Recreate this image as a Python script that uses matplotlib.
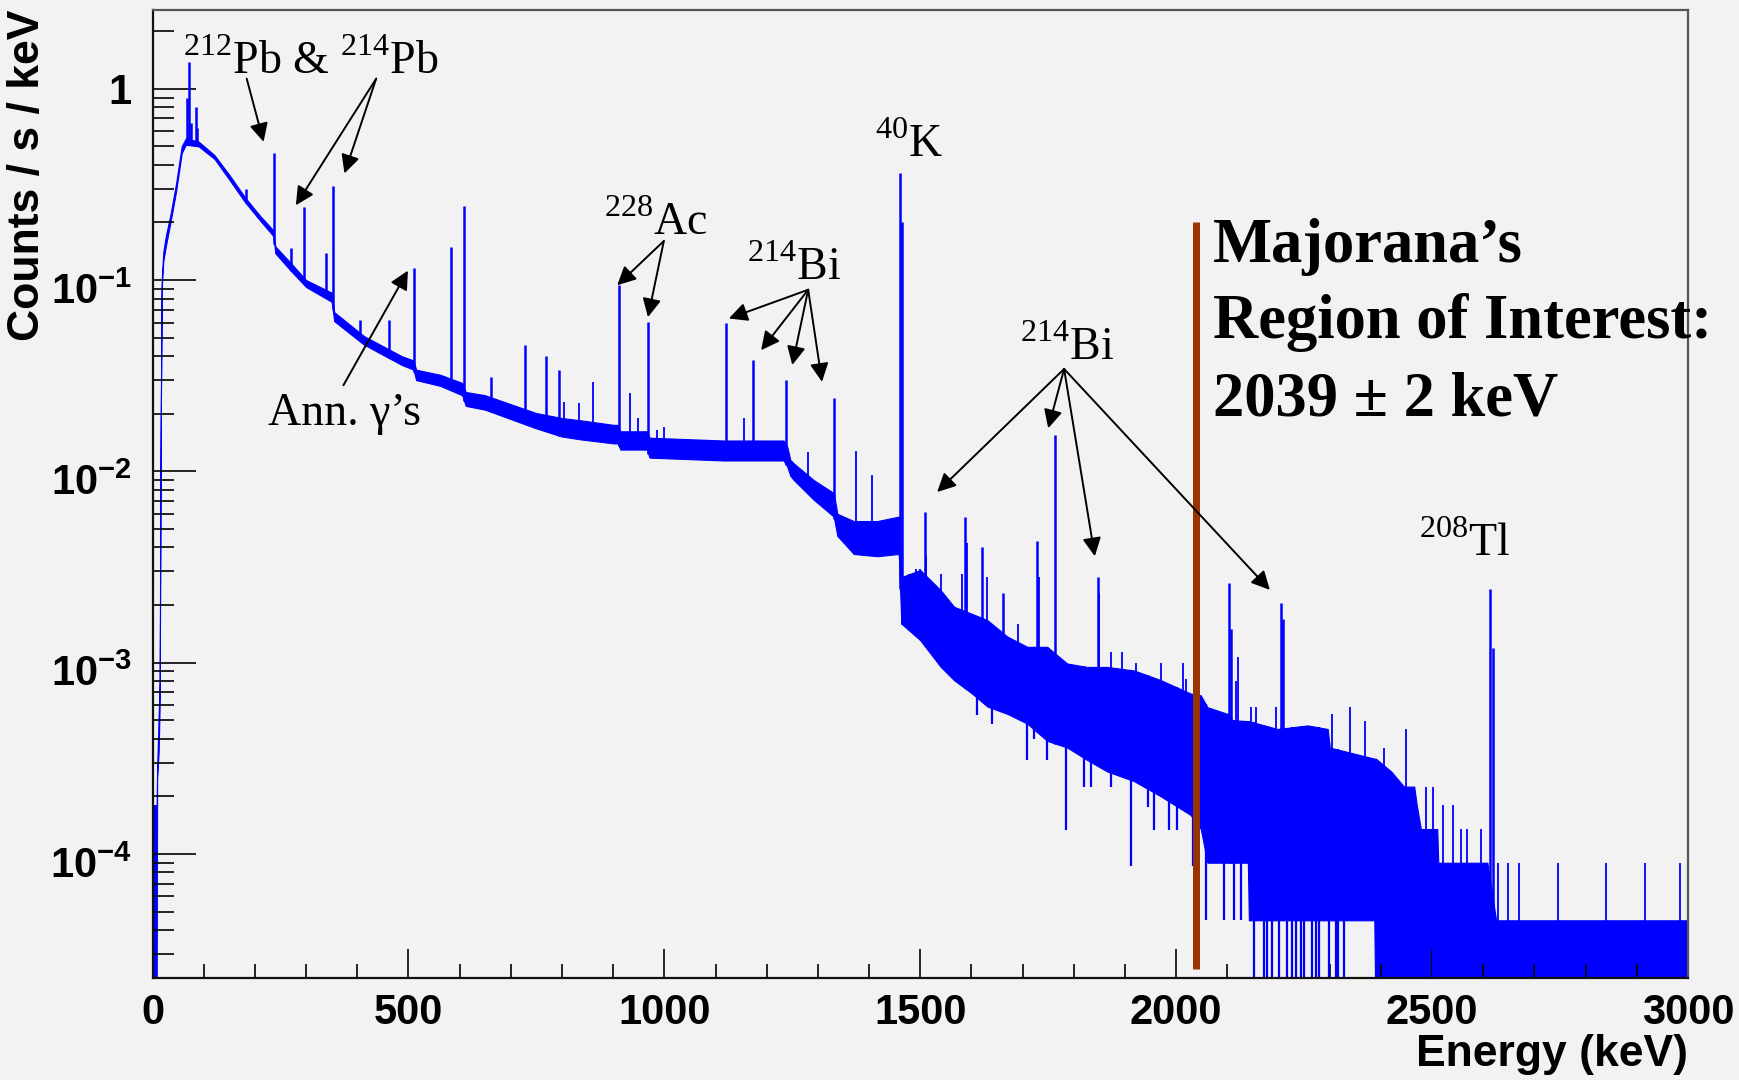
import numpy as np
import matplotlib.pyplot as plt
from matplotlib.ticker import LogLocator, MultipleLocator, NullFormatter
from matplotlib.transforms import ScaledTranslation

plt.rcParams['mathtext.fontset'] = 'custom'
plt.rcParams['mathtext.rm'] = 'Liberation Serif'
plt.rcParams['mathtext.bf'] = 'Liberation Sans:bold'

# continuum band of the spectrum: energy (keV), lower and upper edge (counts/s/keV)
cont_e = [0, 8, 9, 12, 14, 16, 18, 21, 26, 35, 46, 57, 65, 90, 121, 150, 181, 210,
          236, 240, 270, 300, 350, 355, 413, 487, 510, 515, 562, 605, 612, 650, 749,
          800, 836, 901, 909, 914, 966, 971, 1116, 1233, 1240, 1246, 1253, 1292, 1331,
          1338, 1370, 1416, 1458, 1463, 1500, 1540, 1566, 1601, 1631, 1670, 1709, 1748,
          1787, 1826, 1865, 1918, 1970, 2028, 2048, 2061, 2100, 2110, 2140, 2142, 2198,
          2257, 2296, 2300, 2387, 2390, 2420, 2445, 2465, 2470, 2478, 2510, 2512, 2608,
          2625, 3000]
cont_lo = [1e-5, 1e-5, 2.5e-4, 3.4e-4, 6e-4, 0.015, 0.09, 0.125, 0.15, 0.2, 0.29, 0.46,
           0.51, 0.5, 0.43, 0.335, 0.255, 0.205, 0.17, 0.138, 0.112, 0.092, 0.077, 0.061,
           0.046, 0.036, 0.034, 0.03, 0.028, 0.025, 0.022, 0.021, 0.0168,
           0.0152, 0.0147, 0.014, 0.014, 0.013, 0.013, 0.0118, 0.0114, 0.0114, 0.0106,
           0.0095, 0.009, 0.0071, 0.0058, 0.0046, 0.0037, 0.0036, 0.0037, 0.0016, 0.00131,
           0.00095, 0.00081, 0.00069, 0.00059, 0.00054, 0.00048, 0.00039, 0.00036,
           0.00031, 0.00027, 0.00024, 0.0002, 0.00016, 1.35e-4, 9e-5, 9e-5, 9e-5, 9e-5,
           4.5e-5, 4.5e-5, 4.5e-5, 4.5e-5, 4.5e-5, 4.5e-5, 1e-5, 1e-5, 1e-5, 1e-5, 1e-5,
           1e-5, 1e-5, 1e-5, 1e-5, 1e-5, 1e-5]
cont_hi = [1.8e-4, 1.8e-4, 2.8e-4, 5.3e-4, 8e-4, 0.018, 0.1, 0.14, 0.17, 0.22, 0.32, 0.5,
           0.55, 0.53, 0.45, 0.355, 0.27, 0.217, 0.182, 0.15, 0.123, 0.1, 0.086, 0.068,
           0.051, 0.04, 0.038, 0.034, 0.032, 0.029, 0.026, 0.025, 0.0202,
           0.019, 0.0185, 0.0175, 0.0175, 0.0162, 0.0162, 0.015, 0.0145, 0.0145, 0.0135,
           0.0115, 0.011, 0.009, 0.0077, 0.006, 0.0055, 0.0055, 0.0058, 0.0028, 0.00305,
           0.00239, 0.00196, 0.0018, 0.00167, 0.00137, 0.00121, 0.00121, 0.00099,
           0.00095, 0.00095, 0.00091, 0.00081, 0.00069, 6.75e-4, 5.85e-4, 5.4e-4, 5e-4,
           4.95e-4, 4.95e-4, 4.5e-4, 4.7e-4, 4.5e-4, 3.6e-4, 3.15e-4, 3.15e-4, 2.7e-4,
           2.25e-4, 2.25e-4, 1.8e-4, 1.35e-4, 1.35e-4, 9e-5, 9e-5, 4.5e-5, 4.5e-5]

# gamma lines: energy (keV) and top of the bin
peak_e = [68, 71, 75, 84, 86, 182, 238, 270, 295, 338, 352, 405, 463, 511, 583, 609,
          662, 727, 768, 795, 911, 969, 1120, 1173, 1238, 1332, 1461, 1464, 1509, 1588,
          1620, 1661, 1729, 1764, 1847, 2104, 2108, 2204, 2208, 2614, 2618]
peak_h = [0.9, 1.38, 0.66, 0.8, 0.62, 0.30, 0.46, 0.147, 0.24, 0.138, 0.31, 0.062, 0.062,
          0.116, 0.149, 0.245, 0.031, 0.0457, 0.040, 0.034, 0.094, 0.0605, 0.0594, 0.0382,
          0.030, 0.0243, 0.364, 0.2, 0.0061, 0.0058, 0.0040, 0.0023, 0.0043, 0.0155,
          0.0028, 0.0026, 0.0015, 0.00206, 0.0017, 0.00244, 0.0012]

# small upward fluctuations above the band
spike_e = [803, 834, 860, 932, 948, 986, 1000, 1155, 1280, 1375, 1406, 1478, 1491, 1500,
           1512, 1527, 1540, 1581, 1592, 1631, 1690, 1732, 1850, 1872, 1895, 1921, 1971,
           2014, 2020, 2116, 2120, 2146, 2155, 2195, 2305, 2339, 2369, 2406, 2449, 2488,
           2502, 2522, 2541, 2556, 2569, 2595, 2629, 2649, 2669, 2745, 2840, 2916, 2984]
spike_h = [0.0231, 0.0228, 0.0294, 0.0256, 0.019, 0.0164, 0.017, 0.019, 0.0127, 0.0128,
           0.0096, 0.0029, 0.0031, 0.0031, 0.0036, 0.0024, 0.0029, 0.0029, 0.0042, 0.0028,
           0.0016, 0.0028, 0.0023, 0.00114, 0.00114, 0.001, 0.001, 0.001, 0.00082, 0.0008,
           0.00107, 5.85e-4, 5.85e-4, 5.85e-4, 5.4e-4, 5.85e-4, 4.95e-4, 3.6e-4, 4.5e-4,
           2.25e-4, 2.25e-4, 1.8e-4, 1.8e-4, 1.35e-4, 1.35e-4, 1.35e-4, 9e-5, 9e-5, 9e-5,
           9e-5, 9e-5, 9e-5, 9e-5]

# downward fluctuations below the band
dip_e = [1611, 1641, 1709, 1722, 1748, 1785, 1820, 1833, 1872, 1911, 1944, 1957, 1986,
         2002, 2032, 2058, 2094, 2113, 2126,
         2152, 2172, 2178, 2188, 2201, 2216, 2227, 2234, 2243, 2250, 2266, 2273, 2279,
         2299, 2312, 2316, 2328]
dip_low = [0.00053, 0.00048, 0.00031, 0.0004, 0.00031, 0.000133, 0.000225, 0.000225,
           0.000225, 8.7e-5, 0.000177, 0.000133, 0.000133, 0.000133, 8.7e-5, 4.5e-5,
           4.5e-5, 4.5e-5, 4.5e-5,
           1e-5, 1e-5, 1e-5, 1e-5, 1e-5, 1e-5, 1e-5, 1e-5, 1e-5, 1e-5, 1e-5, 1e-5, 1e-5,
           1e-5, 1e-5, 1e-5, 1e-5]

y_ticks = [1e-4, 1e-3, 1e-2, 1e-1, 1]
y_ticklabels = [r'$\mathbf{10^{-4}}$', r'$\mathbf{10^{-3}}$', r'$\mathbf{10^{-2}}$',
                r'$\mathbf{10^{-1}}$', '1']
x_ticks = [0, 500, 1000, 1500, 2000, 2500, 3000]

roi_e = 2039
blue = '#0000ff'
bg = '#f2f2f2'

fig = plt.figure(figsize=(17.39, 10.80), dpi=100, facecolor=bg)
ax = fig.add_axes([0.0877, 0.0949, 0.883, 0.8958])
ax.set_facecolor(bg)

ax.fill_between(cont_e, cont_lo, cont_hi, color=blue, lw=0.8)
base = np.interp(peak_e, cont_e, cont_lo)
ax.vlines(peak_e, base, peak_h, color=blue, lw=1.8)
sbase = np.interp(spike_e, cont_e, cont_lo)
ax.vlines(spike_e, sbase, spike_h, color=blue, lw=1.3)
dtop = np.interp(dip_e, cont_e, cont_hi)
ax.vlines(dip_e, dip_low, dtop, color=blue, lw=1.6)

ax.set_yscale('log')
ax.set_xlim(0, 3000)
ax.set_ylim(2.26e-5, 2.58)

ax.set_yticks(y_ticks)
ax.set_yticklabels(y_ticklabels, fontsize=30, fontweight='bold', family='Liberation Sans')
ax.yaxis.set_minor_locator(LogLocator(base=10, subs=np.arange(2, 10), numticks=20))
ax.yaxis.set_minor_formatter(NullFormatter())
ax.set_xticks(x_ticks)
ax.set_xticklabels([str(t) for t in x_ticks], fontsize=30, fontweight='bold',
                   family='Liberation Sans')
ax.xaxis.set_minor_locator(MultipleLocator(100))

ax.tick_params(axis='y', which='major', direction='in', length=31, width=1.2, pad=15)
ax.tick_params(axis='y', which='minor', direction='in', length=15, width=1.2)
ax.tick_params(axis='x', which='major', direction='in', length=21, width=1.2, pad=11)
ax.tick_params(axis='x', which='minor', direction='in', length=10, width=1.2)
ax.tick_params(top=False, right=False, which='both')

# the 10^x labels sit a little lower than the ticks in the original
shift = ScaledTranslation(0, -0.08, fig.dpi_scale_trans)
for lbl in ax.get_yticklabels()[:4]:
    lbl.set_transform(lbl.get_transform() + shift)

for s in ['left', 'bottom']:
    ax.spines[s].set_linewidth(1.6)
    ax.spines[s].set_color('#111111')
for s in ['top', 'right']:
    ax.spines[s].set_linewidth(1.6)
    ax.spines[s].set_color('#555555')

ax.set_ylabel('Counts / s / keV', fontsize=32, fontweight='bold', family='Liberation Sans',
              loc='top')
ax.yaxis.set_label_coords(-0.068, 1.0)
ax.set_xlabel('Energy (keV)', fontsize=32, fontweight='bold', family='Liberation Sans',
              loc='right')
ax.xaxis.set_label_coords(1.0, -0.058)

# region of interest
ax.vlines(roi_e, 2.5e-5, 0.2, color='#993300', lw=5)
roi_lines = ['Majorana\u2019s', 'Region of Interest:', '2039 \u00b1 2 keV']
roi_y = [0.124, 0.0496, 0.0197]
for t, yy in zip(roi_lines, roi_y):
    ax.text(2071, yy, t, fontsize=45, fontweight='bold', family='Liberation Serif',
            va='baseline', ha='left', clip_on=False)

lab = dict(fontsize=33, family='Liberation Serif', va='baseline', ha='left')
ax.text(60, 1.2, r'$^{212}$Pb & $^{214}$Pb', **lab)
ax.text(226, 0.0175, 'Ann. \u03b3\u2019s', **lab)
ax.text(882, 0.172, r'$^{228}$Ac', **lab)
ax.text(1162, 0.1, r'$^{214}$Bi', **lab)
ax.text(1411, 0.438, r'$^{40}$K', **lab)
ax.text(1694, 0.038, r'$^{214}$Bi', **lab)
ax.text(2474, 0.0036, r'$^{208}$Tl', **lab)

arr = dict(arrowstyle='-|>', mutation_scale=28, lw=1.4, color='k', shrinkA=0, shrinkB=0)
arrows = [((184, 1.13), (217, 0.528)),
          ((437, 1.13), (280, 0.246)),
          ((437, 1.13), (375, 0.361)),
          ((373, 0.0282), (499, 0.112)),
          ((999, 0.16), (908, 0.094)),
          ((999, 0.16), (968, 0.064)),
          ((1281, 0.089), (1126, 0.063)),
          ((1281, 0.089), (1189, 0.043)),
          ((1281, 0.089), (1250, 0.036)),
          ((1281, 0.089), (1308, 0.0294)),
          ((1781, 0.0343), (1533, 0.0078)),
          ((1781, 0.0343), (1750, 0.0168)),
          ((1781, 0.0343), (1841, 0.0036)),
          ((1781, 0.0343), (2183, 0.0024))]
for tail, head in arrows:
    ax.annotate('', xy=head, xytext=tail, arrowprops=arr)

fig.savefig('out.png', dpi=100, facecolor=bg)
